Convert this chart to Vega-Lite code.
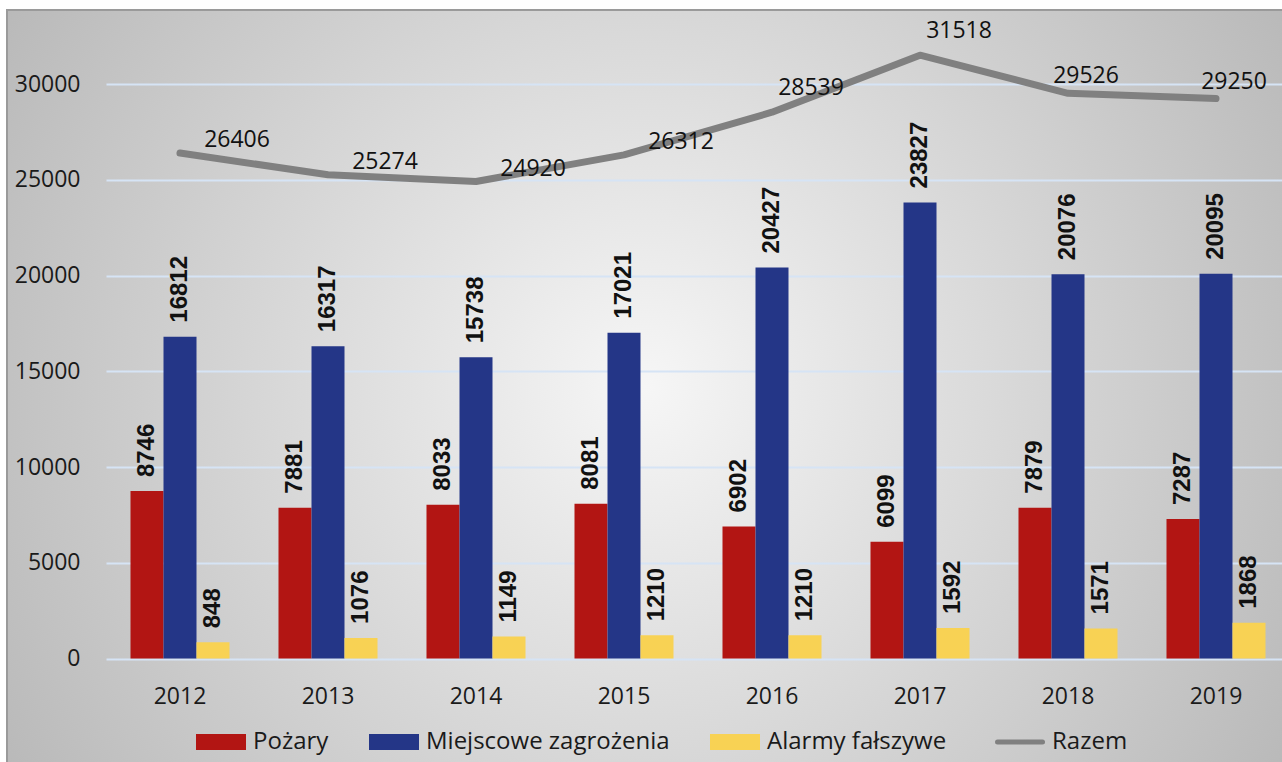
{
  "$schema": "https://vega.github.io/schema/vega-lite/v6.json",
  "autosize": "none",
  "width": 1277,
  "height": 754,
  "padding": {"left": 7, "top": 10, "right": 0, "bottom": 0},
  "background": "white",
  "config": {
    "font": "Open Sans",
    "view": {
      "fill": {
        "gradient": "radial",
        "x1": 0.5, "y1": 0.5, "r1": 0,
        "x2": 0.5, "y2": 0.5, "r2": 0.65,
        "stops": [
          {"offset": 0, "color": "#f6f6f6"},
          {"offset": 1, "color": "#b2b2b2"}
        ]
      },
      "stroke": "#9a9a9a",
      "strokeWidth": 2
    }
  },
  "data": {
    "values": [
      {"rok": "2012", "Pożary": 8746, "Miejscowe zagrożenia": 16812, "Alarmy fałszywe": 848, "Razem": 26406},
      {"rok": "2013", "Pożary": 7881, "Miejscowe zagrożenia": 16317, "Alarmy fałszywe": 1076, "Razem": 25274},
      {"rok": "2014", "Pożary": 8033, "Miejscowe zagrożenia": 15738, "Alarmy fałszywe": 1149, "Razem": 24920},
      {"rok": "2015", "Pożary": 8081, "Miejscowe zagrożenia": 17021, "Alarmy fałszywe": 1210, "Razem": 26312},
      {"rok": "2016", "Pożary": 6902, "Miejscowe zagrożenia": 20427, "Alarmy fałszywe": 1210, "Razem": 28539},
      {"rok": "2017", "Pożary": 6099, "Miejscowe zagrożenia": 23827, "Alarmy fałszywe": 1592, "Razem": 31518},
      {"rok": "2018", "Pożary": 7879, "Miejscowe zagrożenia": 20076, "Alarmy fałszywe": 1571, "Razem": 29526},
      {"rok": "2019", "Pożary": 7287, "Miejscowe zagrożenia": 20095, "Alarmy fałszywe": 1868, "Razem": 29250}
    ]
  },
  "encoding": {
    "x": {
      "field": "rok",
      "type": "nominal",
      "title": null,
      "scale": {"range": [99, 1283], "paddingInner": 0.331, "paddingOuter": 0.1655},
      "axis": {
        "orient": "bottom",
        "offset": -105,
        "domain": false,
        "ticks": false,
        "tickSize": 0,
        "grid": false,
        "labelAngle": 0,
        "labelPadding": 26,
        "labelFont": "Open Sans",
        "labelFontSize": 23,
        "labelColor": "#1a1a1a"
      }
    }
  },
  "layer": [
    {
      "transform": [{"fold": ["Pożary", "Miejscowe zagrożenia", "Alarmy fałszywe"], "as": ["key", "value"]}],
      "mark": {"type": "bar"},
      "encoding": {
        "xOffset": {"field": "key", "type": "nominal", "scale": {"domain": ["Pożary", "Miejscowe zagrożenia", "Alarmy fałszywe"]}},
        "y": {
          "field": "value",
          "type": "quantitative",
          "title": null,
          "scale": {"domain": [0, 34000], "range": [648.5, -2.3], "nice": false, "zero": true},
          "axis": {
            "orient": "left",
            "offset": -78,
            "values": [0, 5000, 10000, 15000, 20000, 25000, 30000],
            "format": "d",
            "domain": false,
            "ticks": false,
            "tickSize": 0,
            "labelPadding": 5,
            "labelFont": "Open Sans",
            "labelFontSize": 23,
            "labelColor": "#1a1a1a",
            "grid": true,
            "gridColor": "#d6e4f5",
            "gridWidth": 2
          }
        },
        "color": {
          "field": "key",
          "type": "nominal",
          "scale": {
            "domain": ["Pożary", "Miejscowe zagrożenia", "Alarmy fałszywe", "Razem"],
            "range": ["#b21513", "#243687", "#f8d254", "#808080"]
          },
          "legend": {
            "title": null,
            "orient": "none",
            "direction": "horizontal",
            "legendX": 202,
            "legendY": 720,
            "padding": 0,
            "symbolSize": 2500,
            "symbolStrokeWidth": 0,
            "labelOffset": 20,
            "columnPadding": 40,
            "labelFont": "Open Sans",
            "labelFontSize": 24,
            "labelColor": "#1a1a1a",
            "labelLimit": 400,
            "encode": {
              "symbols": {
                "update": {
                  "shape": {"signal": "datum.value === 'Razem' ? 'M-0.9,0H0.9' : 'M-1,-0.32H1V0.32H-1Z'"},
                  "fill": {"signal": "datum.value === 'Razem' ? 'transparent' : scale('color', datum.value)"},
                  "stroke": {"value": "#808080"},
                  "strokeWidth": {"signal": "datum.value === 'Razem' ? 5 : 0"},
                  "strokeCap": {"value": "round"},
                  "opacity": {"value": 1},
                  "size": {"value": 2500}
                }
              }
            }
          }
        }
      }
    },
    {
      "transform": [{"fold": ["Pożary", "Miejscowe zagrożenia", "Alarmy fałszywe"], "as": ["key", "value"]}],
      "mark": {"type": "text", "angle": 270, "align": "left", "baseline": "middle", "dx": 14, "font": "Liberation Sans", "fontWeight": "bold", "fontSize": 24, "color": "#111111"},
      "encoding": {
        "xOffset": {"field": "key", "type": "nominal", "scale": {"domain": ["Pożary", "Miejscowe zagrożenia", "Alarmy fałszywe"]}},
        "y": {"field": "value", "type": "quantitative"},
        "text": {"field": "value", "type": "quantitative", "format": "d"}
      }
    },
    {
      "mark": {"type": "line", "strokeWidth": 7, "strokeCap": "round", "strokeJoin": "round"},
      "encoding": {
        "y": {"field": "Razem", "type": "quantitative"},
        "color": {
          "datum": "Razem",
          "scale": {
            "domain": ["Pożary", "Miejscowe zagrożenia", "Alarmy fałszywe", "Razem"],
            "range": ["#b21513", "#243687", "#f8d254", "#808080"]
          }
        }
      }
    },
    {
      "transform": [{"filter": {"field": "rok", "oneOf": ["2012", "2013", "2014", "2015"]}}],
      "mark": {"type": "text", "align": "center", "baseline": "middle", "dx": 57, "dy": -13, "font": "Open Sans", "fontSize": 23, "color": "#111111"},
      "encoding": {
        "y": {"field": "Razem", "type": "quantitative"},
        "text": {"field": "Razem", "type": "quantitative", "format": "d"}
      }
    },
    {
      "transform": [{"filter": {"field": "rok", "oneOf": ["2016", "2017"]}}],
      "mark": {"type": "text", "align": "center", "baseline": "middle", "dx": 39, "dy": -24, "font": "Open Sans", "fontSize": 23, "color": "#111111"},
      "encoding": {
        "y": {"field": "Razem", "type": "quantitative"},
        "text": {"field": "Razem", "type": "quantitative", "format": "d"}
      }
    },
    {
      "transform": [{"filter": {"field": "rok", "oneOf": ["2018", "2019"]}}],
      "mark": {"type": "text", "align": "center", "baseline": "middle", "dx": 18, "dy": -17, "font": "Open Sans", "fontSize": 23, "color": "#111111"},
      "encoding": {
        "y": {"field": "Razem", "type": "quantitative"},
        "text": {"field": "Razem", "type": "quantitative", "format": "d"}
      }
    }
  ]
}
